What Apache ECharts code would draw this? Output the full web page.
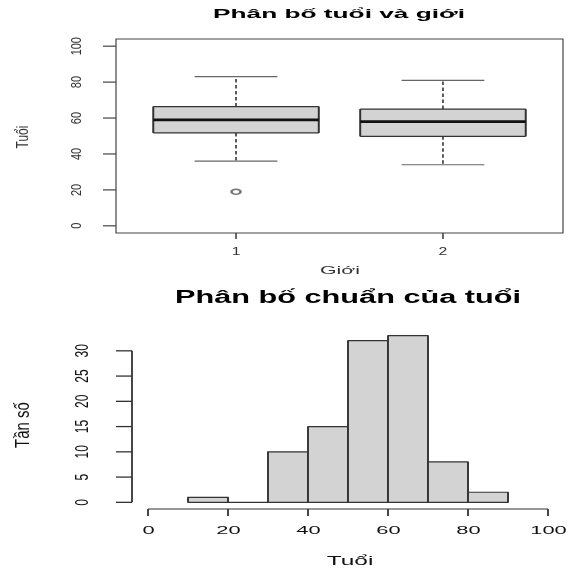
<!DOCTYPE html>
<html><head><meta charset="utf-8">
<script src="https://cdn.jsdelivr.net/npm/echarts@6/dist/echarts.min.js"></script>
<style>html,body{margin:0;padding:0;background:#fff;}#c{width:569px;height:571px;}</style>
</head><body><div id="c"></div><script>
// ---------- data ----------
const genderLabels = ['1', '2'];
const genderPos = [1, 2];
const boxMin = [36, 34];
const boxQ1 = [51.7, 49.8];
const boxMedian = [59, 58];
const boxQ3 = [66.4, 65];
const boxMax = [83, 81];
const outlierGender = [1];
const outlierAge = [19];
const topYTicks = [0, 20, 40, 60, 80, 100];

const binStart = [10, 20, 30, 40, 50, 60, 70, 80];
const binEnd = [20, 30, 40, 50, 60, 70, 80, 90];
const binCount = [1, 0, 10, 15, 32, 33, 8, 2];
const histXTicks = [0, 20, 40, 60, 80, 100];
const histYTicks = [0, 5, 10, 15, 20, 25, 30];

const titleTop = 'Phân bố tuổi và giới';
const xNameTop = 'Giới';
const yNameTop = 'Tuổi';
const titleBottom = 'Phân bố chuẩn của tuổi';
const xNameBottom = 'Tuổi';
const yNameBottom = 'Tần số';

// ---------- helpers ----------
const FONT = '"Liberation Sans", Arial, Helvetica, sans-serif';
const ctx = document.createElement('canvas').getContext('2d');
function measure(text, size, weight) {
  ctx.font = (weight || 'normal') + ' ' + size + 'px ' + FONT;
  return ctx.measureText(text).width;
}
function textEl(text, x, y, size, weight, color, opt) {
  opt = opt || {};
  return {
    type: 'text', x: x, y: y,
    rotation: opt.rotation || 0,
    scaleX: opt.scaleX || 1, scaleY: opt.scaleY || 1,
    style: { text: text, fontSize: size, fontWeight: weight || 'normal', fontFamily: FONT,
             fill: color, align: 'center', verticalAlign: 'middle' },
    silent: true
  };
}
function fitX(text, size, weight, target) { return target / measure(text, size, weight); }

const topXRange = [0.42, 2.58];
const topYRange = [-4, 104];
const botXRange = [-4, 104];
const botYRange = [-1.32, 34.32];

function hiddenAxis(gridIndex, range) {
  return { type: 'value', gridIndex: gridIndex, min: range[0], max: range[1],
    axisLine: { show: false }, axisTick: { show: false }, axisLabel: { show: false }, splitLine: { show: false } };
}

const boxData = genderPos.map((p, i) => [p, boxMin[i], boxQ1[i], boxMedian[i], boxQ3[i], boxMax[i]]);
const histData = binStart.map((s, i) => [s, binEnd[i], binCount[i]]);

const LINE = '#333';

const option = {
  animation: false,
  backgroundColor: '#fff',
  grid: [
    { left: 116, top: 39, width: 447, height: 194, show: true, borderColor: '#444', borderWidth: 1.2, backgroundColor: 'transparent' },
    { left: 132, top: 329, width: 432, height: 180, show: false }
  ],
  xAxis: [hiddenAxis(0, topXRange), hiddenAxis(1, botXRange)],
  yAxis: [hiddenAxis(0, topYRange), hiddenAxis(1, botYRange)],
  graphic: [
    textEl(titleTop, 339, 14.5, 13, 'bold', '#000', { scaleX: fitX(titleTop, 13, 'bold', 252) }),
    textEl(xNameTop, 340, 271, 11, 'normal', '#333', { scaleX: fitX(xNameTop, 11, 'normal', 40) }),
    textEl(yNameTop, 24, 137, 12, 'normal', '#333', { rotation: Math.PI / 2, scaleY: 1.35 }),
    textEl(titleBottom, 348, 298, 17.5, 'bold', '#000', { scaleX: fitX(titleBottom, 17.5, 'bold', 346) }),
    textEl(xNameBottom, 350, 561, 13, 'normal', '#111', { scaleX: fitX(xNameBottom, 13, 'normal', 46.7) }),
    textEl(yNameBottom, 24, 425, 15, 'normal', '#111', { rotation: Math.PI / 2, scaleY: 1.3 })
  ],
  series: [
    // Box plot
    {
      type: 'custom', xAxisIndex: 0, yAxisIndex: 0, clip: false, data: boxData,
      renderItem: function (params, api) {
        const x = api.value(0);
        const xc = api.coord([x, 0])[0];
        const xl = api.coord([x - 0.4, 0])[0], xr = api.coord([x + 0.4, 0])[0];
        const cl = api.coord([x - 0.2, 0])[0], cr = api.coord([x + 0.2, 0])[0];
        const yMin = api.coord([x, api.value(1)])[1];
        const yQ1 = api.coord([x, api.value(2)])[1];
        const yMed = api.coord([x, api.value(3)])[1];
        const yQ3 = api.coord([x, api.value(4)])[1];
        const yMax = api.coord([x, api.value(5)])[1];
        const ln = (x1, y1, x2, y2, w, c, dash) => ({ type: 'line', shape: { x1, y1, x2, y2 },
          style: { stroke: c || LINE, lineWidth: w, lineDash: dash || null }, silent: true });
        return { type: 'group', children: [
          { type: 'rect', shape: { x: xl, y: yQ3, width: xr - xl, height: yQ1 - yQ3 }, style: { fill: '#d3d3d3' } },
          ln(xl, yQ3, xr, yQ3, 1.2),
          ln(xl, yQ1, xr, yQ1, 1.2),
          ln(xl, yQ3, xl, yQ1, 2),
          ln(xr, yQ3, xr, yQ1, 2),
          ln(xl, yMed, xr, yMed, 2.6, '#111'),
          ln(xc, yQ3, xc, yMax, 1.6, '#333', [3.5, 2.5]),
          ln(xc, yQ1, xc, yMin, 1.6, '#333', [3.5, 2.5]),
          ln(cl, yMax, cr, yMax, 1.2, '#666'),
          ln(cl, yMin, cr, yMin, 1.2, '#666')
        ] };
      }
    },
    // Outliers
    {
      type: 'scatter', xAxisIndex: 0, yAxisIndex: 0,
      data: outlierGender.map((g, i) => [g, outlierAge[i]]),
      symbol: 'emptyCircle', symbolSize: [9, 5],
      itemStyle: { color: '#555', borderColor: '#555', borderWidth: 0.9 }, silent: true
    },
    // Top y axis ticks + labels
    {
      type: 'custom', xAxisIndex: 0, yAxisIndex: 0, clip: false, data: topYTicks.map(v => [v]),
      renderItem: function (params, api) {
        const v = api.value(0);
        const gx = params.coordSys.x;
        const y = api.coord([topXRange[0], v])[1];
        return { type: 'group', children: [
          { type: 'line', shape: { x1: gx - 13, y1: y, x2: gx, y2: y }, style: { stroke: '#444', lineWidth: 1.2 } },
          textEl(String(v), 77.5, y, 11, 'normal', '#333', { rotation: Math.PI / 2, scaleY: 1.3 })
        ] };
      }
    },
    // Top x axis ticks + labels
    {
      type: 'custom', xAxisIndex: 0, yAxisIndex: 0, clip: false, data: genderPos.map(v => [v]),
      renderItem: function (params, api) {
        const v = api.value(0);
        const by = params.coordSys.y + params.coordSys.height;
        const x = api.coord([v, topYRange[0]])[0];
        return { type: 'group', children: [
          { type: 'line', shape: { x1: x, y1: by, x2: x, y2: by + 6 }, style: { stroke: '#444', lineWidth: 1.6 } },
          textEl(genderLabels[params.dataIndex], x, 252.5, 10.5, 'normal', '#333', { scaleX: 1.5 })
        ] };
      }
    },
    // Histogram bars
    {
      type: 'custom', xAxisIndex: 1, yAxisIndex: 1, clip: false, data: histData,
      renderItem: function (params, api) {
        const p0 = api.coord([api.value(0), api.value(2)]);
        const p1 = api.coord([api.value(1), 0]);
        return { type: 'group', children: [
          { type: 'rect', shape: { x: p0[0], y: p0[1], width: p1[0] - p0[0], height: p1[1] - p0[1] },
            style: { fill: '#d3d3d3', stroke: '#333', lineWidth: 1.2 } },
          { type: 'line', shape: { x1: p0[0], y1: p0[1], x2: p0[0], y2: p1[1] }, style: { stroke: '#333', lineWidth: 1.8 } },
          { type: 'line', shape: { x1: p1[0], y1: p0[1], x2: p1[0], y2: p1[1] }, style: { stroke: '#333', lineWidth: 1.8 } }
        ] };
      }
    },
    // Histogram y axis: line, ticks, labels
    {
      type: 'custom', xAxisIndex: 1, yAxisIndex: 1, clip: false, data: histYTicks.map(v => [v]),
      renderItem: function (params, api) {
        const v = api.value(0);
        const gx = params.coordSys.x;
        const y = api.coord([botXRange[0], v])[1];
        const children = [
          { type: 'line', shape: { x1: gx - 16, y1: y, x2: gx, y2: y }, style: { stroke: '#333', lineWidth: 1.3 } },
          textEl(String(v), 82.7, y, 12, 'normal', '#111', { rotation: Math.PI / 2, scaleY: 1.5 })
        ];
        if (params.dataIndex === 0) {
          const yTop = api.coord([botXRange[0], histYTicks[histYTicks.length - 1]])[1];
          children.push({ type: 'line', shape: { x1: gx, y1: y, x2: gx, y2: yTop }, style: { stroke: '#333', lineWidth: 1.8 } });
        }
        return { type: 'group', children: children };
      }
    },
    // Histogram x axis: line, ticks, labels
    {
      type: 'custom', xAxisIndex: 1, yAxisIndex: 1, clip: false, data: histXTicks.map(v => [v]),
      renderItem: function (params, api) {
        const v = api.value(0);
        const by = params.coordSys.y + params.coordSys.height;
        const x = api.coord([v, botYRange[0]])[0];
        const children = [
          { type: 'line', shape: { x1: x, y1: by, x2: x, y2: by + 7 }, style: { stroke: '#333', lineWidth: 1.8 } },
          textEl(String(v), x + 0.5, 531, 11.5, 'normal', '#111', { scaleX: 1.9 })
        ];
        if (params.dataIndex === 0) {
          const xEnd = api.coord([histXTicks[histXTicks.length - 1], botYRange[0]])[0];
          children.push({ type: 'line', shape: { x1: x, y1: by, x2: xEnd, y2: by }, style: { stroke: '#333', lineWidth: 1.2 } });
        }
        return { type: 'group', children: children };
      }
    }
  ]
};

const chart = echarts.init(document.getElementById('c'), null, { renderer: 'canvas' });
chart.setOption(option);
</script></body></html>
